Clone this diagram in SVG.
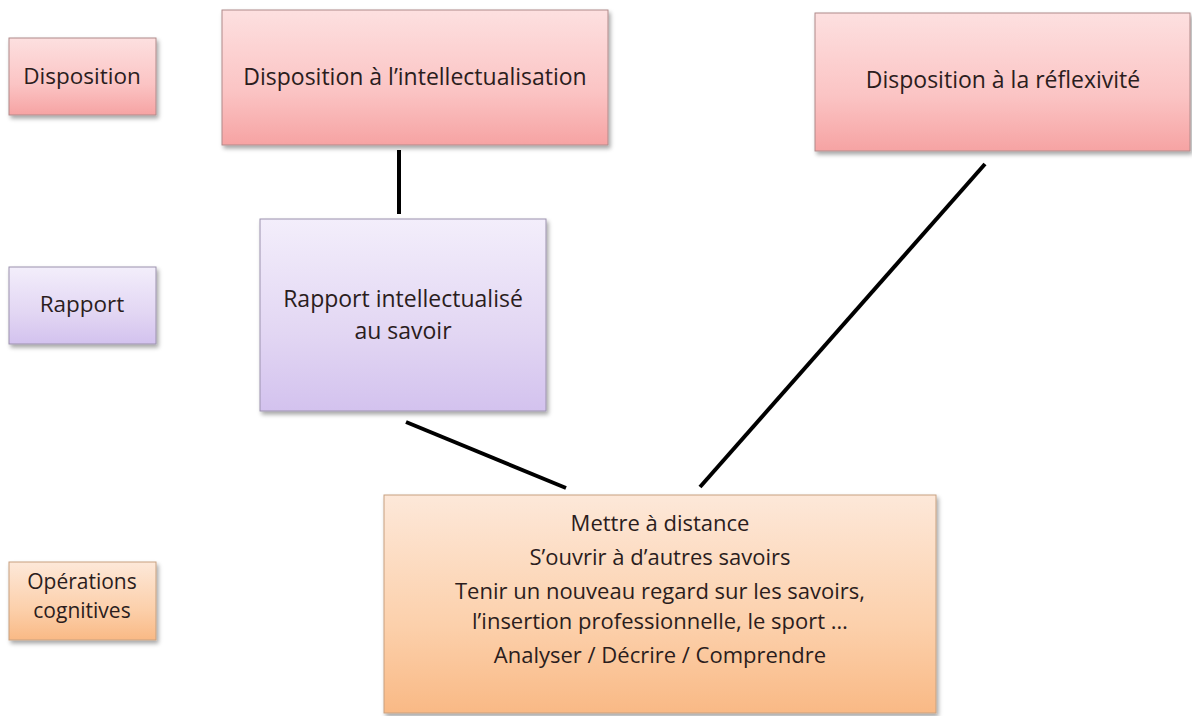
<svg xmlns="http://www.w3.org/2000/svg" width="1192" height="716" viewBox="0 0 1192 716">
<defs>
<linearGradient id="gPink" x1="0" y1="0" x2="0" y2="1"><stop offset="0" stop-color="#fde0e0"/><stop offset="0.6" stop-color="#fbc4c4"/><stop offset="1" stop-color="#f6a3a3"/></linearGradient>
<linearGradient id="gPurple" x1="0" y1="0" x2="0" y2="1"><stop offset="0" stop-color="#f3eefb"/><stop offset="0.6" stop-color="#e2d6f3"/><stop offset="1" stop-color="#d3c2ee"/></linearGradient>
<linearGradient id="gOrange" x1="0" y1="0" x2="0" y2="1"><stop offset="0" stop-color="#fde8d9"/><stop offset="0.6" stop-color="#fcd0ab"/><stop offset="1" stop-color="#f9b985"/></linearGradient>
<filter id="sh" x="-5%" y="-5%" width="115%" height="120%"><feDropShadow dx="2" dy="3" stdDeviation="2" flood-color="#000" flood-opacity="0.35"/></filter>
</defs>
<style>
.box{stroke:#b08a8a;stroke-width:1;filter:url(#sh)}
.pink{fill:url(#gPink)}
.purple{fill:url(#gPurple);stroke:#9c92ad}
.orange{fill:url(#gOrange);stroke:#c7a080}
text{font-family:"Open Sans","Noto Sans",sans-serif;font-size:23px;fill:#2b1d1d;text-anchor:middle}
text.lbl{font-size:22.5px}
text.lbl2{font-size:21px}
text.ops{font-size:22px}
.conn{stroke:#000;stroke-width:4;fill:none}
</style>
<rect width="1192" height="716" fill="#ffffff"/>
<g id="connectors">
<line class="conn" x1="399" y1="150" x2="399" y2="214"/>
<line class="conn" x1="406" y1="422" x2="566" y2="488"/>
<line class="conn" x1="985" y1="164" x2="700" y2="487"/>
</g>
<g id="label-disposition">
<rect class="box pink" x="9" y="38" width="147" height="77"/>
<text class="lbl" x="82" y="84">Disposition</text>
</g>
<g id="node-intellectualisation">
<rect class="box pink" x="222" y="10" width="386" height="135"/>
<text x="415" y="85">Disposition à l’intellectualisation</text>
</g>
<g id="node-reflexivite">
<rect class="box pink" x="815" y="13" width="375" height="138"/>
<text x="1003" y="88">Disposition à la réflexivité</text>
</g>
<g id="label-rapport">
<rect class="box purple" x="9" y="267" width="147" height="77"/>
<text class="lbl" x="82" y="312">Rapport</text>
</g>
<g id="node-rapport">
<rect class="box purple" x="260" y="219" width="286" height="192"/>
<text x="403" y="307"><tspan x="403">Rapport intellectualisé</tspan><tspan x="403" dy="31.5">au savoir</tspan></text>
</g>
<g id="label-operations">
<rect class="box orange" x="9" y="562" width="147" height="78"/>
<text class="lbl2" x="82" y="589"><tspan x="82">Opérations</tspan><tspan x="82" dy="29">cognitives</tspan></text>
</g>
<g id="node-operations">
<rect class="box orange" x="384" y="495" width="552" height="218"/>
<text class="ops" x="660" y="531">Mettre à distance</text>
<text class="ops" x="660" y="565">S’ouvrir à d’autres  savoirs</text>
<text class="ops" x="660" y="599"><tspan x="660">Tenir un nouveau regard sur les savoirs,</tspan><tspan x="660" dy="30">l’insertion professionnelle,  le sport …</tspan></text>
<text class="ops" x="660" y="663">Analyser / Décrire / Comprendre</text>
</g>
</svg>
